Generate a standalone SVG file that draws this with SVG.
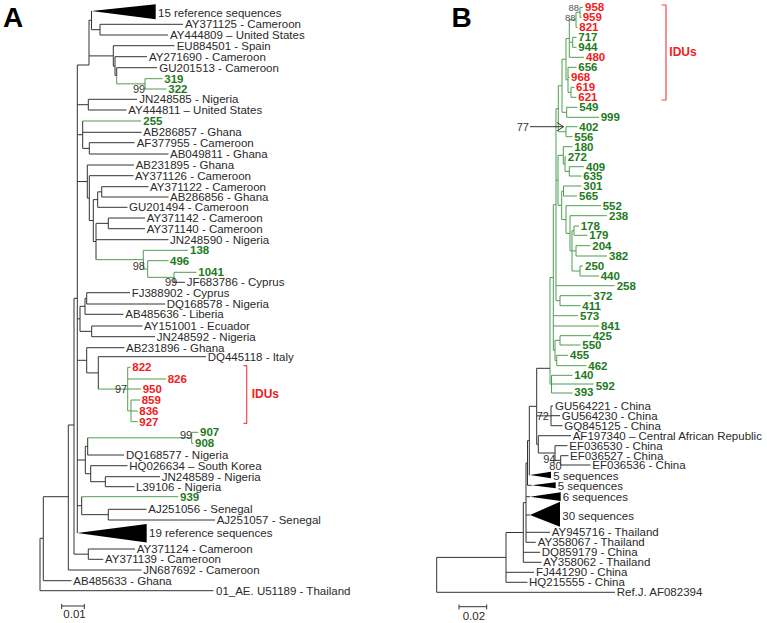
<svg xmlns="http://www.w3.org/2000/svg" width="767" height="623" viewBox="0 0 767 623">
<style>
text{font-family:"Liberation Sans",Arial,sans-serif;font-size:11.5px;fill:#2a2a2a}
.g{fill:#1d7a1d;font-weight:bold}
.r{fill:#f02020;font-weight:bold}
.gb{fill:#1d7a1d;font-weight:bold}
.rb{fill:#f02020;font-weight:bold}
.bs{fill:#333;font-size:11px}
.bs9{fill:#555;font-size:9.5px}
.pl{font-size:28px;font-weight:bold;fill:#000}
.idu{fill:#f02020;font-weight:bold;font-size:12px}
.k{stroke:#333;stroke-width:1;fill:none}
.gl{stroke:#4f9e4f;stroke-width:1;fill:none}
.br{stroke:#f04a4a;stroke-width:1.2;fill:none}
.tri{fill:#000}
</style>
<rect width="767" height="623" fill="#fff"/>
<g id="connectors">
<path class="k" d="M40 538.3V590.7M40 538.3H43.3M40 590.7H213.5M43.3 496.7V580.7M43.3 496.7H68.3M43.3 580.7H71.5M68.3 425V570M68.3 425H74M68.3 570H141.5M74 298.3V554.15M74 298.3H77.3M74 554.15H88.3M88.3 549V559.3M88.3 549H135M88.3 559.3H103.3M77.3 65V533M77.3 65H89M89 20.3V65M89 20.3H91.5M91.5 11V29.7M91.5 29.7H100M89 55.9H113.3M100 24.3V35M100 24.3H183M100 35H168M113.3 45.7V66.1M113.3 45.7H174.5M113.3 66.1H115M115 56.7V75.5M115 56.7H147M115 75.5H116.7M116.7 67.7V75.5M116.7 67.7H157M77.3 104.7H88.3M88.3 99.3V110M88.3 99.3H137M88.3 110H126.5M77.3 134.7H82.7M82.7 121V148.4M82.7 132.3H141.5M82.7 148.4H89.3M89.3 142.7V154M89.3 142.7H134.7M89.3 154H168.5M77.3 181.55H87.3M87.3 165V198.1M87.3 165H134M87.3 198.1H89.3M89.3 175.7V220.55M89.3 175.7H133.5M89.3 220.55H93.3M93.3 199.6V241.5M93.3 199.6H97.7M93.3 241.5H96M97.7 191.85V207.3M97.7 191.85H101.7M97.7 207.3H127.5M101.7 186.7V197M101.7 186.7H148.5M101.7 197H168.5M96 223.35V259.65M96 223.35H108.3M96 239.7H168.5M108.3 218V228.7M108.3 218H145M108.3 228.7H145M174 277.3V282.3M174 282.3H185M77.3 318.8H80M80 306.3V331.35M80 306.3H85M80 331.35H91.7M85 298.35V314.3M85 298.35H86.7M85 314.3H123.5M86.7 292.7V304M86.7 292.7H130M86.7 304H165M91.7 326V336.7M91.7 326H142.5M91.7 336.7H155M77.3 360.3H86.7M86.7 347.7V372.9M86.7 347.7H124.5M86.7 372.9H98.3M98.3 356.7V389.1M98.3 356.7H206M77.3 460H85.3M85.3 446.4V473.7M85.3 446.4H87.7M85.3 473.7H90.7M87.7 437.8V455M87.7 455H124M90.7 465.7V481.7M90.7 465.7H127.5M90.7 481.7H105.3M105.3 476.7V486.7M105.3 476.7H160M105.3 486.7H134.5M77.3 505.7H81.7M81.7 496.7V514.65M81.7 514.65H108.3M108.3 509.3V520M108.3 509.3H146.5M108.3 520H215"/>
<path class="gl" d="M116.7 75.5V83.85H145M145 78.7V89M145 78.7H162.5M145 89H166.5M82.7 121H141M96 259.65H143.3M143.3 250.3V269M143.3 250.3H188M143.3 269H147.7M147.7 260.7V277.3M147.7 260.7H168.5M147.7 277.3H174M174 272.3V277.3M174 272.3H196.5M98.3 389.1H127.7M127.7 367.3V410.85M127.7 367.3H130.5M127.7 379H166M127.7 389H141M127.7 410.85H131M131 400V421.7M131 400H140M131 411H137.7M131 421.7H137.7M87.7 437.8H191.7M191.7 432.3V443.3M191.7 432.3H198.3M191.7 443.3H193.5M81.7 496.7H178.3"/>
<polygon class="tri" points="91.5,11 155.7,4.3 155.7,19.3"/>
<polygon class="tri" points="77.3,533 146.7,524 146.7,542.5"/>
<path class="k" d="M61.7 606H84.3M61.7 604V609M84.3 604V609"/>
<path class="br" d="M243.5 365.7H246.7V423.3H243.5"/>
<path class="gl" d="M580 7.3V17.3M580 7.3H583M580 17.3H581.5M576 12.3V27.3M576 12.3H580M576 27.3H577.5M572.7 37.3V47.3M572.7 37.3H576.5M572.7 47.3H576.5M569.3 19.8V57.3M569.3 19.8H576M569.3 42.3H572.7M569.3 57.3H584M571 87.3V97.3M571 87.3H574.5M571 97.3H576.5M568 67.3V92.3M568 67.3H576.5M568 77.3H569.5M568 92.3H571M566 38.55V79.8M566 38.55H569.3M566 79.8H568M566.7 107.3V117.3M566.7 107.3H577.5M566.7 117.3H599M562 59.2V112.3M562 59.2H566M562 112.3H566.7M566 126.7V136.7M566 126.7H577.5M566 136.7H572.5M558.3 85.75V131.7M558.3 85.75H562M558.3 131.7H566M569.3 166.7V176M569.3 166.7H584M569.3 176H581.5M565 156.7V171.35M565 156.7H566M565 171.35H569.3M563.3 146.7V164M563.3 146.7H572.5M563.3 164H565M563.5 186V196M563.5 186H581.5M563.5 196H577M574 226V235.3M574 226H579M574 235.3H587.5M576 245.7V256M576 245.7H590.5M576 256H607M580 266V276M580 266H583M580 276H599M572 230.65V271M572 230.65H574M572 250.85H576M572 271H580M570 215.7V250.85M570 215.7H607M570 250.85H572M566 205.7V233.3M566 205.7H601M566 233.3H570M561.7 191V219.5M561.7 191H563.5M561.7 219.5H566M558 155.35V205.25M558 155.35H563.3M558 205.25H561.7M560 295.7V305.7M560 295.7H591.5M560 305.7H580.5M556 108.7V300.7M556 108.7H558.3M556 180.3H558M556 285.7H614.7M556 300.7H560M560 335.7V345M560 335.7H591M560 345H580.5M556.7 355.3V365.7M556.7 355.3H568M556.7 365.7H586.5M555 340.35V360.5M555 340.35H560M555 360.5H556.7M553.3 204.7V350.4M553.3 204.7H556M553.3 315.7H578M553.3 326H599M553.3 350.4H555M551.5 375.3V393M551.5 375.3H572.5M551.5 384H593.7M551.5 393H572.5M550 277.55V384.15M550 277.55H553.3M550 384.15H551.5"/>
<path class="k" d="M536.7 368.3H550M536.7 368.3V444.35M536.7 415.85H551M551 406V425.7M551 406H553M551 415.7H560M551 425.7H562.5M536.7 444.35H538.3M538.3 435.7V453M538.3 435.7H571M538.3 453H555M555 445.7V460.35M555 445.7H567.5M555 460.35H560.7M560.7 455.7V465M560.7 455.7H568.5M560.7 465H590.5M529.3 406.3H536.7M529.3 406.3V475M529.3 475H530M527.5 440.65V485.3M527.5 440.65H529.3M527.5 485.3H531.7M526 463V542.3M526 463H527.5M526 496.7H530M526 515H530M526 532.3H550M526 542.3H535.7M523.3 502.65V562.3M523.3 502.65H526M523.3 552.3H540M523.3 562.3H541.5M506 532.5V582.3M506 532.5H523.3M506 572.3H534M506 582.3H527.5M436.7 557.4V592.3M436.7 557.4H506M436.7 592.3H615"/>
<path class="k" d="M530 126.7H563.5M557 122.5L563.5 126.7L557 131"/>
<polygon class="tri" points="530,475 551,471.7 551,478.3"/>
<polygon class="tri" points="531.7,485.3 555.7,482.3 555.7,488.3"/>
<polygon class="tri" points="530,496.7 560.7,492.3 560.7,501"/>
<polygon class="tri" points="530,515 560,501.7 560,526.7"/>
<path class="k" d="M459 606.7H486.7M459 604.5V609.5M486.7 604.5V609.5"/>
<path class="br" d="M661.5 5H666V100H661.5"/>
</g>
<g id="panel-labels">
<text class="pl" x="3" y="26.7">A</text>
<text class="pl" x="451.5" y="26.7">B</text>
</g>
<g id="treeA">
<g id="a00"><text x="158" y="16.7">15 reference sequences</text></g>
<g id="a01"><text x="185" y="28.3">AY371125 - Cameroon</text></g>
<g id="a02"><text x="170" y="39">AY444809 – United States</text></g>
<g id="a03"><text x="176.7" y="49.7">EU884501 - Spain</text></g>
<g id="a04"><text x="149" y="60.7">AY271690 - Cameroon</text></g>
<g id="a05"><text x="159.3" y="71.7">GU201513 - Cameroon</text></g>
<g id="a06"><text class="g" x="164.3" y="82.7">319</text></g>
<g id="a07"><text class="g" x="168.3" y="93">322</text></g>
<g id="a08"><text x="139.3" y="103.3">JN248585 - Nigeria</text></g>
<g id="a09"><text x="128.3" y="114">AY444811 – United States</text></g>
<g id="a10"><text class="g" x="143.3" y="125">255</text></g>
<g id="a11"><text x="143.3" y="136.3">AB286857 - Ghana</text></g>
<g id="a12"><text x="136.7" y="146.7">AF377955 - Cameroon</text></g>
<g id="a13"><text x="170" y="158">AB049811 - Ghana</text></g>
<g id="a14"><text x="135.7" y="169">AB231895 - Ghana</text></g>
<g id="a15"><text x="135" y="179.7">AY371126 - Cameroon</text></g>
<g id="a16"><text x="150" y="190.7">AY371122 - Cameroon</text></g>
<g id="a17"><text x="170" y="201">AB286856 - Ghana</text></g>
<g id="a18"><text x="129" y="211.3">GU201494 - Cameroon</text></g>
<g id="a19"><text x="146.7" y="222">AY371142 - Cameroon</text></g>
<g id="a20"><text x="146.7" y="232.7">AY371140 - Cameroon</text></g>
<g id="a21"><text x="170" y="243.7">JN248590 - Nigeria</text></g>
<g id="a22"><text class="g" x="190" y="254.3">138</text></g>
<g id="a23"><text class="g" x="170" y="264.7">496</text></g>
<g id="a24"><text class="g" x="198.3" y="276.3">1041</text></g>
<g id="a25"><text x="186.7" y="286.3">JF683786 - Cyprus</text></g>
<g id="a26"><text x="131.7" y="296.7">FJ388902 - Cyprus</text></g>
<g id="a27"><text x="166.7" y="308">DQ168578 - Nigeria</text></g>
<g id="a28"><text x="125.3" y="318.3">AB485636 - Liberia</text></g>
<g id="a29"><text x="144" y="330">AY151001 - Ecuador</text></g>
<g id="a30"><text x="156.7" y="340.7">JN248592 - Nigeria</text></g>
<g id="a31"><text x="126" y="351.7">AB231896 - Ghana</text></g>
<g id="a32"><text x="207.7" y="360.7">DQ445118 - Italy</text></g>
<g id="a33"><text class="r" x="132.3" y="371.3">822</text></g>
<g id="a34"><text class="r" x="167.7" y="383">826</text></g>
<g id="a35"><text class="r" x="142.7" y="393">950</text></g>
<g id="a36"><text class="r" x="141.7" y="404">859</text></g>
<g id="a37"><text class="r" x="139.3" y="415">836</text></g>
<g id="a38"><text class="r" x="139.3" y="425.7">927</text></g>
<g id="a39"><text class="g" x="200" y="436.3">907</text></g>
<g id="a40"><text class="g" x="195" y="447.3">908</text></g>
<g id="a41"><text x="126" y="459">DQ168577 - Nigeria</text></g>
<g id="a42"><text x="129.3" y="469.7">HQ026634 – South Korea</text></g>
<g id="a43"><text x="161.7" y="480.7">JN248589 - Nigeria</text></g>
<g id="a44"><text x="136" y="490.7">L39106 - Nigeria</text></g>
<g id="a45"><text class="g" x="180" y="500.7">939</text></g>
<g id="a46"><text x="148.3" y="513.3">AJ251056 - Senegal</text></g>
<g id="a47"><text x="216.7" y="524">AJ251057 - Senegal</text></g>
<g id="a48"><text x="149" y="537.3">19 reference sequences</text></g>
<g id="a49"><text x="136.7" y="553">AY371124 - Cameroon</text></g>
<g id="a50"><text x="105" y="563.3">AY371139 - Cameroon</text></g>
<g id="a51"><text x="143.3" y="574">JN687692 - Cameroon</text></g>
<g id="a52"><text x="73.3" y="584.7">AB485633 - Ghana</text></g>
<g id="a53"><text x="216" y="594.7">01_AE. U51189 - Thailand</text></g>
<g id="a-boot">
<text class="bs" x="133" y="93">99</text>
<text class="bs" x="132.7" y="269.7">98</text>
<text class="bs" x="165" y="286.3">99</text>
<text class="bs" x="115" y="393">97</text>
<text class="bs" x="180" y="439">99</text>
</g>
<g id="a-idus"><text class="idu" x="251.7" y="398">IDUs</text></g>
<g id="a-scale"><text x="63.3" y="618.2">0.01</text></g>
</g>
<g id="treeB">
<g id="b958"><text class="rb" x="585" y="11.3">958</text></g>
<g id="b959"><text class="rb" x="582.7" y="21.3">959</text></g>
<g id="b821"><text class="rb" x="579.3" y="31.3">821</text></g>
<g id="b717"><text class="gb" x="578.3" y="41.3">717</text></g>
<g id="b944"><text class="gb" x="578.3" y="51.3">944</text></g>
<g id="b480"><text class="rb" x="586" y="61.3">480</text></g>
<g id="b656"><text class="gb" x="578.3" y="71.3">656</text></g>
<g id="b968"><text class="rb" x="571" y="81.3">968</text></g>
<g id="b619"><text class="rb" x="576" y="91.3">619</text></g>
<g id="b621"><text class="rb" x="578.3" y="101.3">621</text></g>
<g id="b549"><text class="gb" x="579.3" y="111.3">549</text></g>
<g id="b999"><text class="gb" x="600.7" y="121.3">999</text></g>
<g id="b402"><text class="gb" x="579.3" y="130.7">402</text></g>
<g id="b556"><text class="gb" x="574.3" y="140.7">556</text></g>
<g id="b180"><text class="gb" x="574.3" y="150.7">180</text></g>
<g id="b272"><text class="gb" x="567.7" y="160.7">272</text></g>
<g id="b409"><text class="gb" x="586" y="170.7">409</text></g>
<g id="b635"><text class="gb" x="583.3" y="180">635</text></g>
<g id="b301"><text class="gb" x="583.3" y="190">301</text></g>
<g id="b565"><text class="gb" x="579" y="200">565</text></g>
<g id="b552"><text class="gb" x="602.7" y="209.7">552</text></g>
<g id="b238"><text class="gb" x="609" y="219.7">238</text></g>
<g id="b178"><text class="gb" x="580.7" y="230">178</text></g>
<g id="b179"><text class="gb" x="589.3" y="239.3">179</text></g>
<g id="b204"><text class="gb" x="592.3" y="249.7">204</text></g>
<g id="b382"><text class="gb" x="609" y="260">382</text></g>
<g id="b250"><text class="gb" x="585" y="270">250</text></g>
<g id="b440"><text class="gb" x="600.7" y="280">440</text></g>
<g id="b258"><text class="gb" x="616.7" y="289.7">258</text></g>
<g id="b372"><text class="gb" x="593.3" y="299.7">372</text></g>
<g id="b411"><text class="gb" x="582.3" y="309.7">411</text></g>
<g id="b573"><text class="gb" x="580" y="319.7">573</text></g>
<g id="b841"><text class="gb" x="601" y="330">841</text></g>
<g id="b425"><text class="gb" x="592.7" y="339.7">425</text></g>
<g id="b550"><text class="gb" x="582.3" y="349">550</text></g>
<g id="b455"><text class="gb" x="570" y="359.3">455</text></g>
<g id="b462"><text class="gb" x="588.3" y="369.7">462</text></g>
<g id="b140"><text class="gb" x="574.3" y="379.3">140</text></g>
<g id="b592"><text class="gb" x="595.7" y="389.7">592</text></g>
<g id="b393"><text class="gb" x="574.3" y="396.3">393</text></g>
<g id="b-gu564221"><text x="555" y="410">GU564221 - China</text></g>
<g id="b-gu564230"><text x="561.7" y="419.7">GU564230 - China</text></g>
<g id="b-gq845125"><text x="564.3" y="429.7">GQ845125 - China</text></g>
<g id="b-af197340"><text x="572.7" y="439.7">AF197340 – Central African Republic</text></g>
<g id="b-ef036530"><text x="569.3" y="449.7">EF036530 - China</text></g>
<g id="b-ef036527"><text x="570" y="459.7">EF036527 - China</text></g>
<g id="b-ef036536"><text x="592.3" y="469">EF036536 - China</text></g>
<g id="b-5seq1"><text x="553.3" y="479.7">5 sequences</text></g>
<g id="b-5seq2"><text x="557.7" y="490">5 sequences</text></g>
<g id="b-6seq"><text x="562.7" y="501">6 sequences</text></g>
<g id="b-30seq"><text x="562.3" y="519.7">30 sequences</text></g>
<g id="b-ay945716"><text x="551.7" y="536.3">AY945716 - Thailand</text></g>
<g id="b-ay358067"><text x="537.7" y="546.3">AY358067 - Thailand</text></g>
<g id="b-dq859179"><text x="541.7" y="556.3">DQ859179 - China</text></g>
<g id="b-ay358062"><text x="543.3" y="566.3">AY358062 - Thailand</text></g>
<g id="b-fj441290"><text x="536" y="576.3">FJ441290 - China</text></g>
<g id="b-hq215555"><text x="529" y="586.3">HQ215555 - China</text></g>
<g id="b-refj"><text x="616.7" y="596.3">Ref.J. AF082394</text></g>
<g id="b-boot">
<text class="bs9" x="568.5" y="11">88</text>
<text class="bs9" x="565" y="20.5">88</text>
<text class="bs" x="516.7" y="130.7">77</text>
<text class="bs" x="536.7" y="419.7">72</text>
<text class="bs" x="543.3" y="463">94</text>
<text class="bs" x="549.3" y="469.7">80</text>
</g>
<g id="b-idus"><text class="idu" x="669.3" y="55.7">IDUs</text></g>
<g id="b-scale"><text x="462.7" y="620">0.02</text></g>
</g>
</svg>
